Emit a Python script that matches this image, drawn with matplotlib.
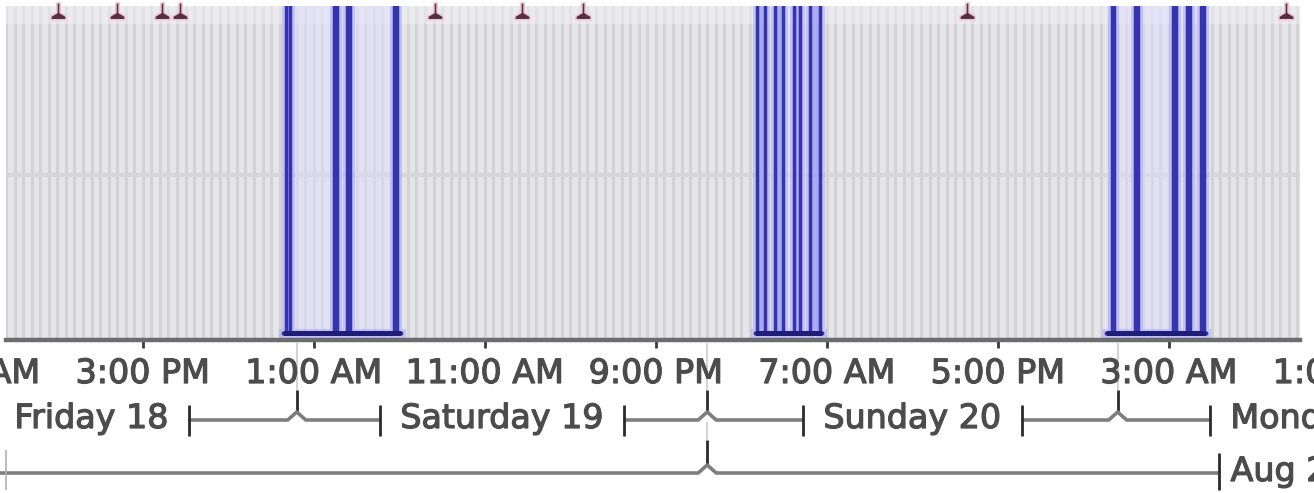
import matplotlib
matplotlib.use('Agg')
import matplotlib.pyplot as plt
from matplotlib.path import Path
import matplotlib.patheffects as pe
import numpy as np
from datetime import datetime, timedelta

# ---------------- data (hours since Fri 2017-08-18 00:00) ----------------
BASE = datetime(2017, 8, 18)
view_start, view_end = 7.0, 82.66
tick_hours = [5, 15, 25, 35, 45, 55, 65, 75, 85]
day_names = ['Friday 18', 'Saturday 19', 'Sunday 20', 'Monday 21']
day_centers = [12, 36, 60, 84]
day_boundaries = [24, 48, 72]
week_boundary = 48
week_label = 'Aug 20 - Aug 26'
week_label_start = 78.6

cluster_windows = [(23.19, 30.09), (50.79, 54.71), (71.32, 77.16)]
spike_starts = [23.40, 26.18, 26.94, 29.71, 50.91, 51.96, 53.07, 54.01,
                71.64, 73.04, 75.26, 76.08, 76.85]
spike_ends = [23.58, 26.35, 27.11, 29.88, 51.37, 52.43, 53.42, 54.59,
              71.81, 73.21, 75.43, 76.25, 77.02]
spike_level = 300
event_hours = [10.03, 13.48, 16.11, 17.16, 32.08, 37.16, 40.73, 63.19, 81.84]
event_level = 101
grid_value = 50
y_min, y_max = -2.2, 103.5

# ---------------- figure layout ----------------
W, H = 1314, 493
fig = plt.figure(figsize=(W / 100, H / 100), dpi=100, facecolor='white')
AX_L, AX_R, AX_T, AX_B = 6, 1300, 6, 340
ax = fig.add_axes([AX_L / W, (H - AX_B) / H, (AX_R - AX_L) / W, (AX_B - AX_T) / H])
ax.set_xlim(view_start, view_end)
ax.set_ylim(y_min, y_max)
ax.set_facecolor('#e6e6e9')
for s in ['top', 'left', 'right']:
    ax.spines[s].set_visible(False)
ax.spines['bottom'].set_color('#6c6c70')
ax.spines['bottom'].set_linewidth(3.2)
ax.set_yticks([])

def yf(py):
    """pixel row -> axes fraction"""
    return (AX_B - py) / (AX_B - AX_T)

hpp = (view_end - view_start) / (AX_R - AX_L)  # hours per pixel
trans = ax.get_xaxis_transform()

# background stripes / bands
ax.vlines(np.arange(view_start, view_end, 0.5), y_min, y_max,
          color='#d3d3d7', lw=2.3, zorder=1)
ax.axhspan(97.8, y_max, color='#f0f0f3', alpha=0.55, zorder=1.1, lw=0)
ax.axhline(grid_value, color='#d6d6d8', lw=3, zorder=1.2)

# series
for (a, b) in cluster_windows:
    t, v = [a], [0]
    for s, e in zip(spike_starts, spike_ends):
        if a <= s <= b:
            t += [s, s, e, e]
            v += [0, spike_level, spike_level, 0]
    t += [b]
    v += [0]
    ax.axvspan(a, b, color='#dcdcff', alpha=0.45, zorder=1.5, lw=0)
    ax.fill_between(t, v, 0, color='#7c7ce8', alpha=0.5, lw=0, zorder=2)
    ax.plot(t, v, color='#a8a8f4', lw=6.5, alpha=0.55, zorder=2.5, solid_joinstyle='miter')
    ax.plot(t, v, color='#3434ae', lw=2.5, zorder=3, solid_joinstyle='miter')
    ax.plot([a, b], [0, 0], color='#1e1e78', lw=3.6, zorder=3.2, solid_capstyle='butt')

# event markers
pin = Path([(-0.14, 1.0), (0.14, 1.0), (0.14, 0.15), (0.65, -0.15), (0.65, -0.45),
            (-0.65, -0.45), (-0.65, -0.15), (-0.14, 0.15), (-0.14, 1.0)])
ax.plot(event_hours, [event_level] * len(event_hours), ls='none', marker=pin,
        ms=17, color='#553040', mec='#efc9d5', mew=1.2, zorder=4, clip_on=False)

# x ticks
ax.set_xticks([h for h in tick_hours if view_start <= h <= view_end])
ax.tick_params(axis='x', length=6, width=2, color='#3a3a3a', labelbottom=False)

TXT = dict(fontsize=24, color='#4c4c4c', family='DejaVu Sans', clip_on=False,
           path_effects=[pe.withStroke(linewidth=0.9, foreground='#4c4c4c')])
for h in tick_hours:
    lab = (BASE + timedelta(hours=h)).strftime('%I:%M %p').lstrip('0')
    ax.text(h, yf(383), lab, transform=trans, ha='center', va='baseline', **TXT)

day_texts = [ax.text(c, yf(428), n, transform=trans, ha='center', va='baseline', **TXT)
             for c, n in zip(day_centers, day_names)]
week_text = ax.text(week_label_start, yf(481), week_label, transform=trans,
                    ha='left', va='baseline', **TXT)

fig.canvas.draw()
inv = ax.transData.inverted()
def x_extent(t):
    bb = t.get_window_extent()
    x0 = inv.transform((bb.x0, bb.y0))[0]
    x1 = inv.transform((bb.x1, bb.y0))[0]
    return x0, x1

LINE_C, BAR_C, FAINT_C = '#7e7e7e', '#2a2a2a', '#d4d4d4'
LK = dict(transform=trans, clip_on=False, solid_capstyle='butt')

def brace(xl, xr, xm, y_line, y_apex, y_bar0, y_bar1, notch_px=9):
    nw = notch_px * hpp
    pts_x = [xl, xm - nw, xm, xm + nw, xr]
    pts_y = [y_line, y_line, y_apex, y_line, y_line]
    ax.plot(pts_x, [yf(p) for p in pts_y], color=LINE_C, lw=2.6, **LK)
    for xb in (xl, xr):
        ax.plot([xb, xb], [yf(y_bar0), yf(y_bar1)], color=BAR_C, lw=2.0, **LK)

gap = 20 * hpp
for i, mid in enumerate(day_boundaries):
    xl = x_extent(day_texts[i])[1] + gap
    xr = x_extent(day_texts[i + 1])[0] - gap
    ax.plot([mid, mid], [yf(343), yf(390)], color=FAINT_C, lw=1.5, zorder=0, **LK)
    ax.plot([mid, mid], [yf(390), yf(412)], color=BAR_C, lw=2.0, **LK)
    brace(xl, xr, mid, 420, 412, 405, 436)

# week row
wk_bar = x_extent(week_text)[0] - 12 * hpp
ax.plot([week_boundary, week_boundary], [yf(422), yf(440)], color=FAINT_C, lw=1.5, **LK)
ax.plot([week_boundary, week_boundary], [yf(440), yf(466)], color=BAR_C, lw=2.0, **LK)
nw = 9 * hpp
ax.plot([view_start - 20 * hpp, week_boundary - nw, week_boundary, week_boundary + nw, wk_bar],
        [yf(473), yf(473), yf(465), yf(473), yf(473)], color=LINE_C, lw=2.6, **LK)
ax.plot([wk_bar, wk_bar], [yf(453), yf(490)], color=BAR_C, lw=2.0, **LK)
ax.plot([view_start, view_start], [yf(450), yf(490)], color='#b0b0b0', lw=1.2, **LK)

fig.savefig('out.png', dpi=100, facecolor='white')
